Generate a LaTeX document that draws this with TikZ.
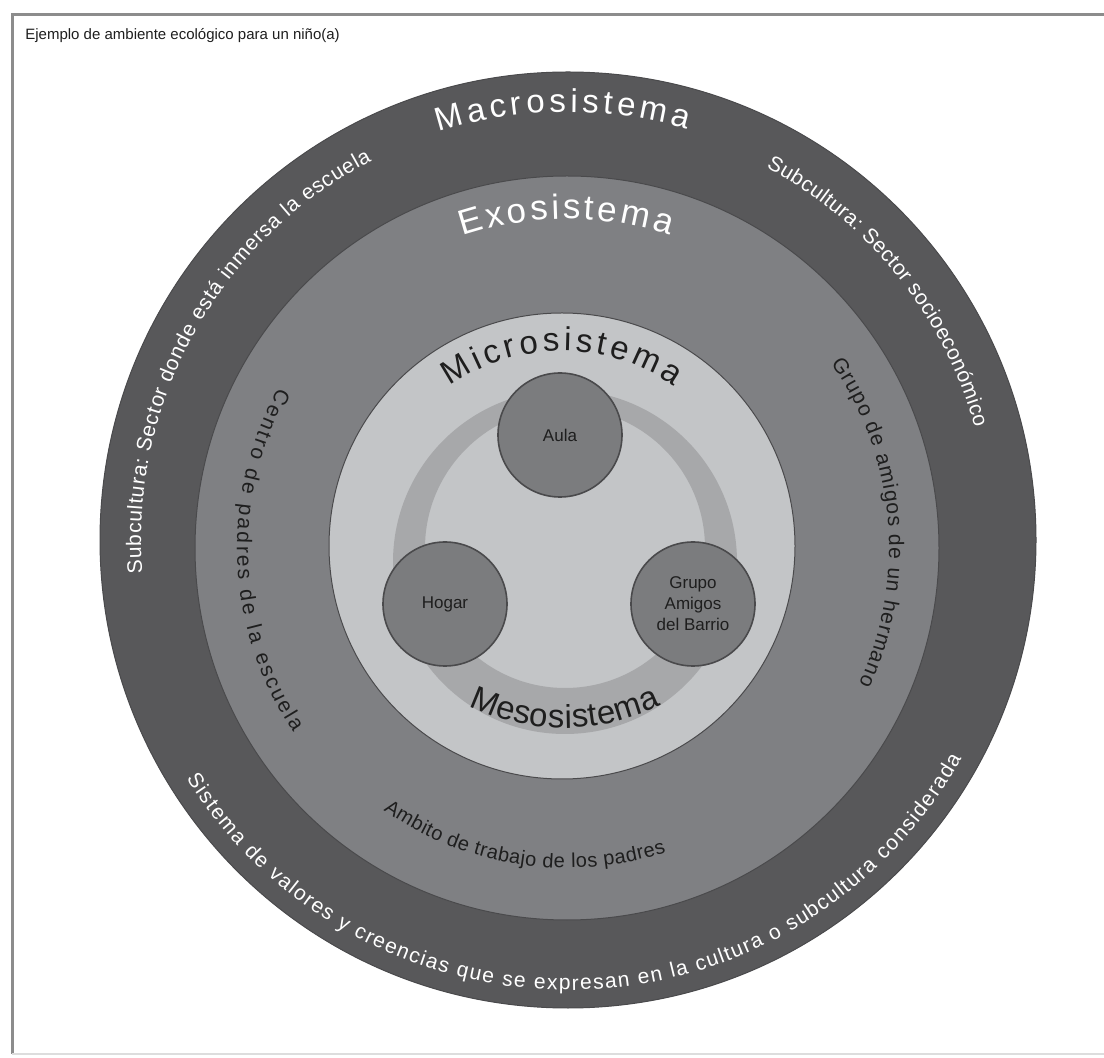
\documentclass[tikz,border=0pt]{standalone}
\usepackage{fontspec}
\setmainfont{Liberation Sans}
\usetikzlibrary{decorations.text}

\definecolor{macrogray}{HTML}{58585A}
\definecolor{exogray}{HTML}{7F8083}
\definecolor{microgray}{HTML}{C3C5C7}
\definecolor{ringgray}{HTML}{A7A8AA}
\definecolor{nodegray}{HTML}{7B7C7E}
\definecolor{edgegray}{HTML}{4A4A4C}
\definecolor{textdark}{HTML}{1E1E1E}
\definecolor{framegray}{HTML}{8C8C8C}

\newcommand\sysfont{\fontsize{16.5}{19}\selectfont}
\newcommand\labfont{\fontsize{10.5}{12}\selectfont}
\newcommand\nodefont{\fontsize{8.5}{10.5}\selectfont}

\begin{document}
\begin{tikzpicture}
	[x = 0.5pt, y = 0.5pt, every node/.style = {inner sep = 0pt},
	 band/.style = {circle, draw = edgegray, line width = 0.5pt},
	 setting/.style = {circle, fill = nodegray, draw = edgegray, line width = 0.8pt,
		minimum size = 62pt, align = center, font = \nodefont, text = textdark},
	 curved/.style = {decorate, decoration = {text along path, text align = fit to path, text = {#1}}},
	 light/.style = {decoration = {text color = white}},
	 dark/.style = {decoration = {text color = textdark}}]
\useasboundingbox (0,0) rectangle (1104,-1058);

\draw[framegray, line width = 1.5pt] (1110,-15) -- (12,-15) -- (12,-1054);
\draw[framegray!30, line width = 1pt] (12,-1054) -- (1110,-1054);
\node[anchor = base west, font = \fontsize{7.5}{9}\selectfont, text = textdark] (title) at (25,-40)
	{Ejemplo de ambiente ecológico para un niño(a)};

\node[band, fill = macrogray, minimum size = 468pt] (macro) at (568,-540) {};
\node[band, fill = exogray, minimum size = 372pt] (exo) at (567,-548) {};
\node[band, fill = microgray, minimum size = 233pt] (micro) at (562,-546) {};
\fill[ringgray, even odd rule] (565,-562) circle (172) (565,-548) circle (140);
\coordinate (meso) at (564,-508);

\node[setting] (aula) at (560,-435) {Aula};
\node[setting] (hogar) at (445,-604) {Hogar};
\node[setting] (grupo) at (693,-604) {Grupo\\Amigos\\del Barrio};

\path[curved = {|\sysfont|Macrosistema}, light]
	([shift = {(107.6:428)}]macro.center) arc[start angle = 107.6, end angle = 73.8, radius = 428];
\path[curved = {|\labfont|Subcultura: Sector donde está inmersa la escuela}, light]
	([shift = {(184.5:427)}]macro.center) arc[start angle = 184.5, end angle = 117.4, radius = 427];
\path[curved = {|\labfont|Subcultura: Sector socioeconómico}, light]
	([shift = {(62:422)}]macro.center) arc[start angle = 62, end angle = 15.4, radius = 422];
\path[curved = {|\labfont|Sistema de valores y creencias que se expresan en la cultura o subcultura considerada}, light]
	([shift = {(212:450)}]macro.center) arc[start angle = 212, end angle = 331, radius = 450];

\path[curved = {|\fontsize{17.5}{20}\selectfont|Exosistema}, light]
	([shift = {(108.5:329)}]exo.center) arc[start angle = 108.5, end angle = 71.8, radius = 329];
\path[curved = {|\labfont|Centro de padres de la escuela}, dark]
	([shift = {(151:330)}]exo.center) arc[start angle = 151, end angle = 214, radius = 330];
\path[curved = {|\labfont|Grupo de amigos de un hermano}, dark]
	([shift = {(35:322)}]exo.center) arc[start angle = 35, end angle = -25, radius = 322];
\path[curved = {|\fontsize{10}{12}\selectfont|Ambito de trabajo de los padres}, dark]
	([shift = {(235:320)}]exo.center) arc[start angle = 235, end angle = 288, radius = 320];

\path[curved = {|\sysfont|Microsistema}, dark]
	([shift = {(125:195)}]micro.center) arc[start angle = 125, end angle = 55, radius = 195];
\path[curved = {|\sysfont|Mesosistema}, dark]
	([shift = {(244.2:220)}]meso) arc[start angle = 244.2, end angle = 296.2, radius = 220];

\end{tikzpicture}
\end{document}
